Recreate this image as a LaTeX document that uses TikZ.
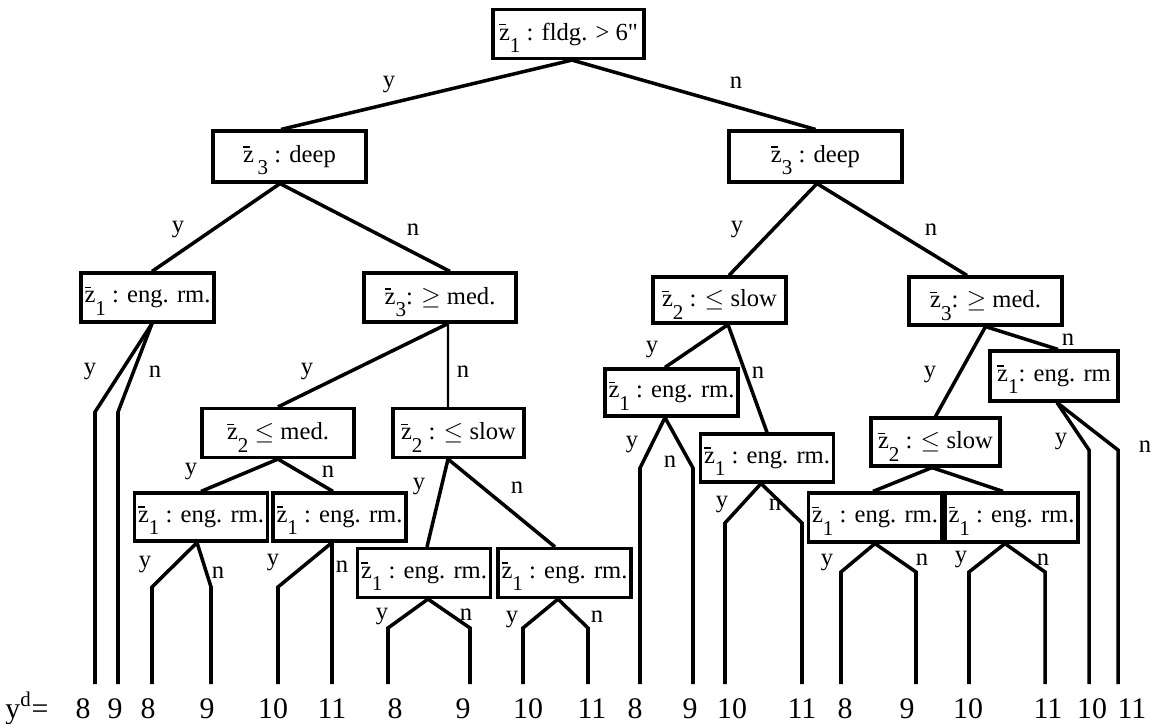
\documentclass[tikz,border=0pt]{standalone}
\usepackage{fontspec}
\setmainfont{Liberation Serif}
\newfontfamily\rawserif{Liberation Serif}
\usepackage{tikz}

% z with a bar and a lowered index
\newcommand{\zb}[1]{\leavevmode\rlap{\rule[0.6em]{0.28em}{0.06em}}z\raisebox{-0.5em}[0pt][0pt]{\fontsize{12}{12}\selectfont #1}}

\begin{document}
\begin{tikzpicture}[x=0.02cm, y=-0.02cm,
    cond/.style={rectangle, draw, line width=1.8pt, minimum height=0.98cm,
        inner xsep=2pt, inner ysep=0pt, font=\fontsize{14}{16}\selectfont},
    br/.style={line width=2pt},
    lab/.style={inner sep=0pt, font=\fontsize{14}{16}\selectfont},
    leaf/.style={anchor=base, inner sep=0pt, font=\fontsize{17}{19}\selectfont}
]
    \useasboundingbox (0,0) rectangle (1154,724);

    % tests
    \node[cond, minimum width=3.02cm] (root) at (568.5,34) {\zb{1} : fldg. > 6{\rawserif"}};
    \node[cond, minimum width=3.06cm, minimum height=1.02cm] (deepL) at (289.5,156.5) {\zb{\,3} : deep};
    \node[cond, minimum width=3.46cm, minimum height=1.02cm] (deepR) at (815.5,156.5) {\zb{3} : deep};
    \node[cond, minimum width=2.58cm] (engA) at (147.5,297.5) {\zb{1} : eng. rm.};
    \node[cond, minimum width=3.04cm] (medA) at (440,297.5) {\zb{3}: $\geq$ med.};
    \node[cond, minimum width=2.66cm, minimum height=0.92cm] (slowA) at (719.5,300) {\zb{2} : $\leq$ slow};
    \node[cond, minimum width=3.06cm, minimum height=0.96cm] (medB) at (985.5,301) {\zb{3}: $\geq$ med.};
    \node[cond, minimum width=2.56cm, minimum height=1.0cm] (engB) at (1054,376) {\zb{1}: eng. rm};
    \node[cond, minimum width=2.58cm, minimum height=0.94cm] (engC) at (671.5,392.5) {\zb{1} : eng. rm.};
    \node[cond, minimum width=3.04cm] (lemed) at (278,433) {\zb{2} $\leq$ med.};
    \node[cond, minimum width=2.62cm] (slowB) at (458.5,433) {\zb{2} : $\leq$ slow};
    \node[cond, minimum width=2.56cm, minimum height=0.96cm] (engD) at (767,458) {\zb{1} : eng. rm.};
    \node[cond, minimum width=2.58cm, minimum height=0.96cm] (slowC) at (935.5,442) {\zb{2} : $\leq$ slow};
    \node[cond, minimum width=2.64cm, minimum height=0.96cm] (engE) at (201,517) {\zb{1} : eng. rm.};
    \node[cond, minimum width=2.58cm, minimum height=0.96cm] (engF) at (339.5,517) {\zb{1} : eng. rm.};
    \node[cond, minimum width=2.6cm] (engG) at (424,573) {\zb{1} : eng. rm.};
    \node[cond, minimum width=2.54cm] (engH) at (564.5,573) {\zb{1} : eng. rm.};
    \node[cond, minimum width=2.6cm, minimum height=0.98cm] (engI) at (875,517.5) {\zb{1} : eng. rm.};
    \node[cond, minimum width=2.58cm, minimum height=0.98cm] (engJ) at (1011.5,517.5) {\zb{1} : eng. rm.};

    % outcomes
    \node[leaf, anchor=base west] (yd) at (5,718) {\underline{y}\textsuperscript{d}=};
    \foreach \i/\x/\lx/\v in {1/95/83/8, 2/118/115/9, 3/152/148/8, 4/211/207/9,
        5/278/273/10, 6/332/332/11, 7/388/395/8, 8/470/463/9, 9/523/528/10,
        10/588/592/11, 11/640/635/8, 12/693/690/9, 13/725/732/10, 14/802/802/11,
        15/841/845/8, 16/916/907/9, 17/969/968/10, 18/1045/1048/11,
        19/1089/1092/10, 20/1118/1132/11}
    {
        \coordinate (v\i) at (\x,684);
        \node[leaf] (d\i) at (\lx,718) {\v};
    }

    % branches between tests
    \draw[br] ([xshift=0.07cm]root.south) -- ([xshift=-0.17cm]deepL.north);
    \draw[br] ([xshift=0.07cm]root.south) -- (deepR.north);
    \draw[br] ([xshift=-0.19cm]deepL.south) -- ([xshift=0.09cm]engA.north);
    \draw[br] ([xshift=-0.19cm]deepL.south) -- ([xshift=0.2cm]medA.north);
    \draw[br] ([xshift=0.03cm]deepR.south) -- ([xshift=0.19cm]slowA.north);
    \draw[br] ([xshift=0.03cm]deepR.south) -- ([xshift=-0.37cm]medB.north);
    \draw[br] ([xshift=0.16cm]medA.south) -- (lemed.north);
    \draw[br, line width=1.3pt] ([xshift=0.16cm]medA.south) -- ([xshift=-0.21cm]slowB.north);
    \draw[br] ([xshift=0.17cm]slowA.south) -- ([xshift=-0.13cm]engC.north);
    \draw[br] ([xshift=0.17cm]slowA.south) -- (engD.north);
    \draw[br] (medB.south) -- (slowC.north);
    \draw[br] (medB.south) -- ([xshift=0.08cm]engB.north);
    \draw[br] (lemed.south) -- (engE.north);
    \draw[br] (lemed.south) -- ([xshift=-0.13cm]engF.north);
    \draw[br] ([xshift=-0.21cm]slowB.south) -- ([xshift=0.06cm]engG.north);
    \draw[br] ([xshift=-0.21cm]slowB.south) -- ([xshift=-0.19cm]engH.north);
    \draw[br] ([xshift=-0.07cm]slowC.south) -- ([xshift=-0.04cm]engI.north);
    \draw[br] ([xshift=-0.07cm]slowC.south) -- ([xshift=-0.17cm]engJ.north);

    % branches down to the outcomes
    \draw[br] ([xshift=0.09cm]engA.south) -- (v1 |- 0,412) -- (v1);
    \draw[br] ([xshift=0.09cm]engA.south) -- (v2 |- 0,412) -- (v2);
    \draw[br] ([xshift=-0.08cm]engE.south) -- (v3 |- 0,587) -- (v3);
    \draw[br] ([xshift=-0.08cm]engE.south) -- (v4 |- 0,587) -- (v4);
    \draw[br] ([xshift=-0.15cm]engF.south) -- (v5 |- 0,587) -- (v5);
    \draw[br] ([xshift=-0.15cm]engF.south) -- (v6);
    \draw[br] ([xshift=0.08cm]engG.south) -- (v7 |- 0,628) -- (v7);
    \draw[br] ([xshift=0.08cm]engG.south) -- (v8 |- 0,628) -- (v8);
    \draw[br] ([xshift=-0.13cm]engH.south) -- (v9 |- 0,628) -- (v9);
    \draw[br] ([xshift=-0.13cm]engH.south) -- (v10 |- 0,628) -- (v10);
    \draw[br] ([xshift=-0.13cm]engC.south) -- (v11 |- 0,468) -- (v11);
    \draw[br] ([xshift=-0.13cm]engC.south) -- (v12 |- 0,468) -- (v12);
    \draw[br] ([xshift=-0.12cm]engD.south) -- (v13 |- 0,523) -- (v13);
    \draw[br] ([xshift=-0.12cm]engD.south) -- (v14 |- 0,523) -- (v14);
    \draw[br] (engI.south) -- (v15 |- 0,572) -- (v15);
    \draw[br] (engI.south) -- (v16 |- 0,572) -- (v16);
    \draw[br] ([xshift=-0.13cm]engJ.south) -- (v17 |- 0,572) -- (v17);
    \draw[br] ([xshift=-0.13cm]engJ.south) -- (v18 |- 0,572) -- (v18);
    \draw[br] ([xshift=0.06cm]engB.south) -- (v19 |- 0,450) -- (v19);
    \draw[br] ([xshift=0.06cm]engB.south) -- (v20 |- 0,450) -- (v20);

    % y / n on the branches
    \foreach \x/\y/\t [count=\k] in {389/85/y, 736/83/n,
        178/230/y, 413/230/n, 737/230/y, 931/230/n,
        90/372/y, 155/372/n, 307/372/y, 463/372/n,
        652/350/y, 758/373/n, 930/375/y, 1068/340/n,
        191/472/y, 328/472/n, 419/487/y, 517/488/n,
        632/445/y, 670/462/n, 1061/442/y, 1145/447/n,
        145/565/y, 218/573/n, 273/563/y, 342/567/n,
        382/617/y, 466/615/n, 512/620/y, 597/617/n,
        722/505/y, 775/505/n,
        827/563/y, 922/560/n, 961/560/y, 1043/560/n}
    {
        \node[lab] (yn\k) at (\x,\y) {\t};
    }
\end{tikzpicture}
\end{document}
